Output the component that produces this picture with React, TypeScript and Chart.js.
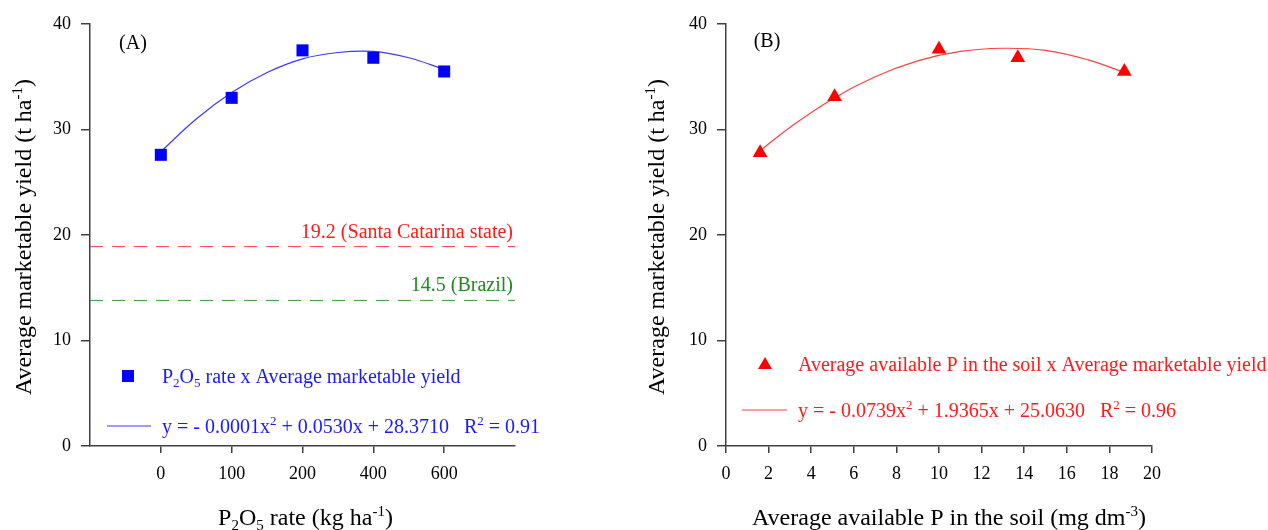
import React, { useEffect, useRef } from 'react';
import { Chart, registerables } from 'chart.js';

Chart.register(...registerables);

// ---------- data ----------
const rateLabels = ['0', '100', '200', '400', '600'];
const rateIndex = [0, 1, 2, 3, 4];
const yieldA = [27.6, 33.0, 37.5, 36.8, 35.5];
const fitAx = [0, 0.5, 1, 1.5, 2, 2.5, 3, 3.5, 4];
const fitAy = [27.9, 31.0, 33.5, 35.4, 36.7, 37.3, 37.4, 36.8, 35.7];
const refLevels = [18.9, 13.8];
const refLabels = ['19.2 (Santa Catarina state)', '14.5 (Brazil)'];

const soilP = [1.6, 5.1, 10.0, 13.7, 18.7];
const yieldB = [27.8, 33.1, 37.6, 36.8, 35.5];
const fitBx = [1.6, 3, 5, 7, 9, 11, 13, 15, 17, 18.7];
const fitBy = [28.0, 30.2, 32.9, 35.0, 36.5, 37.4, 37.7, 37.5, 36.6, 35.4];

const yTicks = [0, 10, 20, 30, 40];
const xTicksB = [0, 2, 4, 6, 8, 10, 12, 14, 16, 18, 20];

// ---------- styles ----------
const FONT = '"Liberation Serif", "Times New Roman", serif';
const AXIS = '#404040';
const BLUE = '#0000ff';
const BLUE_LINE = '#3a3aff';
const BLUE_TEXT = '#1a1aff';
const RED = '#ff0000';
const RED_LINE = '#ff4040';
const RED_TEXT = '#ff1a1a';
const GREEN_LINE = '#3c9a3c';
const GREEN_TEXT = '#1f8a1f';

const TXT = 20;
const TITLE = 24;

type Seg = { t: string; s?: 'sub' | 'sup' };

function drawRich(
  ctx: CanvasRenderingContext2D,
  segs: Seg[],
  x: number,
  y: number,
  size: number,
  color: string,
  align: 'left' | 'center' | 'right'
) {
  ctx.save();
  ctx.fillStyle = color;
  ctx.textBaseline = 'alphabetic';
  ctx.textAlign = 'left';
  const small = Math.round(size * 0.64);
  let w = 0;
  for (const sg of segs) {
    ctx.font = `${sg.s ? small : size}px ${FONT}`;
    w += ctx.measureText(sg.t).width;
  }
  let cx = align === 'left' ? x : align === 'center' ? x - w / 2 : x - w;
  for (const sg of segs) {
    ctx.font = `${sg.s ? small : size}px ${FONT}`;
    const dy = sg.s === 'sup' ? -size * 0.38 : sg.s === 'sub' ? size * 0.2 : 0;
    ctx.fillText(sg.t, cx, y + dy);
    cx += ctx.measureText(sg.t).width;
  }
  ctx.restore();
}

function drawRotated(
  ctx: CanvasRenderingContext2D,
  segs: Seg[],
  x: number,
  y: number,
  size: number,
  color: string
) {
  ctx.save();
  ctx.translate(x, y);
  ctx.rotate(-Math.PI / 2);
  drawRich(ctx, segs, 0, 0, size, color, 'center');
  ctx.restore();
}

const yTitle: Seg[] = [{ t: 'Average marketable yield (t ha' }, { t: '-1', s: 'sup' }, { t: ')' }];
const xTitleA: Seg[] = [
  { t: 'P' },
  { t: '2', s: 'sub' },
  { t: 'O' },
  { t: '5', s: 'sub' },
  { t: ' rate (kg ha' },
  { t: '-1', s: 'sup' },
  { t: ')' },
];
const xTitleB: Seg[] = [{ t: 'Average available P in the soil (mg dm' }, { t: '-3', s: 'sup' }, { t: ')' }];
const legA1: Seg[] = [
  { t: 'P' },
  { t: '2', s: 'sub' },
  { t: 'O' },
  { t: '5', s: 'sub' },
  { t: ' rate x Average marketable yield' },
];
const legA2: Seg[] = [
  { t: 'y = - 0.0001x' },
  { t: '2', s: 'sup' },
  { t: ' + 0.0530x + 28.3710   R' },
  { t: '2', s: 'sup' },
  { t: ' = 0.91' },
];
const legB1: Seg[] = [{ t: 'Average available P in the soil x Average marketable yield' }];
const legB2: Seg[] = [
  { t: 'y = - 0.0739x' },
  { t: '2', s: 'sup' },
  { t: ' + 1.9365x + 25.0630   R' },
  { t: '2', s: 'sup' },
  { t: ' = 0.96' },
];

function scaleOpts(min: number, max: number, ticks: number[], labels: ((i: number) => string) | null, fit: (s: any) => void, tickLen: number, pad: number) {
  return {
    type: 'linear' as const,
    min,
    max,
    afterBuildTicks: (s: any) => {
      s.ticks = ticks.map((v) => ({ value: v }));
    },
    afterFit: fit,
    ticks: {
      autoSkip: false,
      maxRotation: 0,
      color: '#000',
      padding: pad,
      font: { family: FONT, size: 18 },
      callback: (v: any, i: number) => (labels ? labels(i) : String(v)),
    },
    grid: {
      display: true,
      drawOnChartArea: false,
      drawTicks: true,
      tickLength: tickLen,
      color: AXIS,
      lineWidth: 1.5,
    },
    border: { display: true, color: AXIS, width: 1.5 },
  };
}

export default function App() {
  const refA = useRef<HTMLCanvasElement>(null);
  const refB = useRef<HTMLCanvasElement>(null);

  useEffect(() => {
    const annotA = {
      id: 'annotA',
      afterDraw(chart: any) {
        const ctx = chart.ctx as CanvasRenderingContext2D;
        const ys = chart.scales.y;
        const area = chart.chartArea;
        drawRich(ctx, [{ t: '(A)' }], 133, 49, TXT, '#000', 'center');
        drawRich(ctx, [{ t: refLabels[0] }], area.right - 2, ys.getPixelForValue(refLevels[0]) - 9, TXT, RED_TEXT, 'right');
        drawRich(ctx, [{ t: refLabels[1] }], area.right - 2, ys.getPixelForValue(refLevels[1]) - 9, TXT, GREEN_TEXT, 'right');
        ctx.save();
        ctx.fillStyle = BLUE;
        ctx.fillRect(122, 370, 12, 12);
        ctx.strokeStyle = BLUE_LINE;
        ctx.lineWidth = 1.2;
        ctx.beginPath();
        ctx.moveTo(107, 426);
        ctx.lineTo(151, 426);
        ctx.stroke();
        ctx.restore();
        drawRich(ctx, legA1, 162, 383, TXT, BLUE_TEXT, 'left');
        drawRich(ctx, legA2, 162, 433, TXT, BLUE_TEXT, 'left');
        drawRotated(ctx, yTitle, 31, 237, TITLE, '#000');
        drawRich(ctx, xTitleA, (area.left + area.right) / 2 + 3, 525, TITLE, '#000', 'center');
      },
    };

    const annotB = {
      id: 'annotB',
      afterDraw(chart: any) {
        const ctx = chart.ctx as CanvasRenderingContext2D;
        const area = chart.chartArea;
        drawRich(ctx, [{ t: '(B)' }], 133, 47, TXT, '#000', 'center');
        ctx.save();
        ctx.fillStyle = RED;
        const cx = 131;
        const cy = 364;
        ctx.beginPath();
        ctx.moveTo(cx, cy - 7);
        ctx.lineTo(cx + 7, cy + 5);
        ctx.lineTo(cx - 7, cy + 5);
        ctx.closePath();
        ctx.fill();
        ctx.strokeStyle = RED_LINE;
        ctx.lineWidth = 1.2;
        ctx.beginPath();
        ctx.moveTo(108, 410);
        ctx.lineTo(153, 410);
        ctx.stroke();
        ctx.restore();
        drawRich(ctx, legB1, 164, 371, TXT, RED_TEXT, 'left');
        drawRich(ctx, legB2, 164, 417, TXT, RED_TEXT, 'left');
        drawRotated(ctx, yTitle, 30, 237, TITLE, '#000');
        drawRich(ctx, xTitleB, (area.left + area.right) / 2 + 10, 525, TITLE, '#000', 'center');
      },
    };

    const chartA = new Chart(refA.current!, {
      type: 'scatter',
      data: {
        datasets: [
          {
            data: rateIndex.map((x, i) => ({ x, y: yieldA[i] })),
            pointStyle: 'rect',
            pointRadius: 8.5,
            backgroundColor: BLUE,
            borderColor: BLUE,
            borderWidth: 0,
          },
          {
            data: fitAx.map((x, i) => ({ x, y: fitAy[i] })),
            showLine: true,
            pointRadius: 0,
            borderColor: BLUE_LINE,
            borderWidth: 1.2,
            tension: 0.4,
          },
          {
            data: [{ x: -1, y: refLevels[0] }, { x: 5, y: refLevels[0] }],
            showLine: true,
            pointRadius: 0,
            borderColor: RED_LINE,
            borderWidth: 1,
            borderDash: [13, 9],
          },
          {
            data: [{ x: -1, y: refLevels[1] }, { x: 5, y: refLevels[1] }],
            showLine: true,
            pointRadius: 0,
            borderColor: GREEN_LINE,
            borderWidth: 1,
            borderDash: [13, 9],
          },
        ],
      },
      options: {
        responsive: false,
        animation: false,
        devicePixelRatio: 1,
        layout: { padding: { left: 0, right: 119, top: 24, bottom: 0 } },
        plugins: { legend: { display: false }, tooltip: { enabled: false } },
        scales: {
          x: scaleOpts(-1, 5, rateIndex, (i) => rateLabels[i], (s: any) => { s.height = 84; }, 7, 10) as any,
          y: scaleOpts(0, 40, yTicks, null, (s: any) => { s.width = 90; }, 9, 10) as any,
        },
      },
      plugins: [annotA],
    });

    const chartB = new Chart(refB.current!, {
      type: 'scatter',
      data: {
        datasets: [
          {
            data: soilP.map((x, i) => ({ x, y: yieldB[i] })),
            pointStyle: 'triangle',
            pointRadius: 8.5,
            backgroundColor: RED,
            borderColor: RED,
            borderWidth: 0,
          },
          {
            data: fitBx.map((x, i) => ({ x, y: fitBy[i] })),
            showLine: true,
            pointRadius: 0,
            borderColor: RED_LINE,
            borderWidth: 1.2,
            tension: 0.4,
          },
        ],
      },
      options: {
        responsive: false,
        animation: false,
        devicePixelRatio: 1,
        layout: { padding: { left: 0, right: 116, top: 24, bottom: 0 } },
        plugins: { legend: { display: false }, tooltip: { enabled: false } },
        scales: {
          x: scaleOpts(0, 20, xTicksB, null, (s: any) => { s.height = 84; }, 7, 10) as any,
          y: scaleOpts(0, 40, yTicks, null, (s: any) => { s.width = 92; }, 9, 10) as any,
        },
      },
      plugins: [annotB],
    });

    return () => {
      chartA.destroy();
      chartB.destroy();
    };
  }, []);

  return (
    <div style={{ position: 'absolute', left: 0, top: 0, width: 1268, height: 530, background: '#fff' }}>
      <canvas ref={refA} width={634} height={530} style={{ position: 'absolute', left: 0, top: 0 }} />
      <canvas ref={refB} width={634} height={530} style={{ position: 'absolute', left: 634, top: 0 }} />
    </div>
  );
}
